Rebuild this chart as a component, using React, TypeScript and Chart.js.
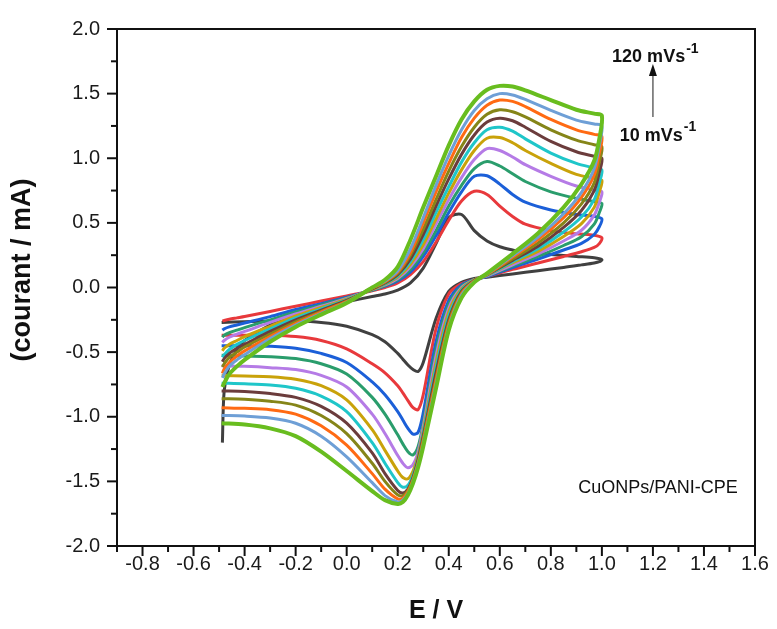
import { useEffect, useRef } from 'react';
import { Chart, registerables } from 'chart.js';

Chart.register(...registerables);

// Potential grids (V) for the anodic (forward) and cathodic (reverse) scans
const E_FWD = [-0.487, -0.48, -0.46, -0.43, -0.4, -0.3, -0.2, -0.1, 0.0, 0.1, 0.15, 0.2, 0.25, 0.3, 0.35, 0.4, 0.45, 0.5, 0.55, 0.6, 0.65, 0.7, 0.8, 0.9, 0.97, 1.0];
const E_REV = [0.99, 0.97, 0.92, 0.85, 0.75, 0.65, 0.55, 0.5, 0.45, 0.4, 0.35, 0.3, 0.28, 0.26, 0.24, 0.22, 0.2, 0.15, 0.1, 0.0, -0.1, -0.2, -0.3, -0.4, -0.49];

// Scan rates (mV/s)
const SCAN_RATES = [10, 20, 30, 40, 50, 60, 70, 80, 90, 100, 110, 120];

// Currents (mA), forward scan
const FWD_10 = [-1.2, -0.8, -0.6, -0.48, -0.41, -0.29, -0.21, -0.15, -0.11, -0.07, -0.05, -0.02, 0.035, 0.15, 0.34, 0.54, 0.565, 0.44, 0.36, 0.315, 0.29, 0.27, 0.255, 0.24, 0.23, 0.215];
const FWD_20 = [-0.26, -0.255, -0.245, -0.235, -0.225, -0.185, -0.145, -0.105, -0.065, -0.025, 0.0, 0.035, 0.1, 0.2, 0.35, 0.52, 0.67, 0.745, 0.72, 0.63, 0.55, 0.49, 0.44, 0.415, 0.405, 0.385];
const FWD_30 = [-0.33, -0.32, -0.305, -0.29, -0.275, -0.225, -0.17, -0.125, -0.075, -0.02, 0.01, 0.05, 0.12, 0.24, 0.4, 0.58, 0.74, 0.86, 0.865, 0.8, 0.72, 0.66, 0.6, 0.565, 0.55, 0.53];
const FWD_40 = [-0.385, -0.37, -0.35, -0.33, -0.31, -0.25, -0.19, -0.135, -0.08, -0.02, 0.015, 0.06, 0.14, 0.27, 0.44, 0.63, 0.79, 0.92, 0.975, 0.94, 0.88, 0.82, 0.74, 0.69, 0.665, 0.65];
const FWD_50 = [-0.425, -0.41, -0.385, -0.36, -0.34, -0.27, -0.205, -0.145, -0.085, -0.015, 0.02, 0.07, 0.16, 0.3, 0.49, 0.68, 0.85, 0.99, 1.075, 1.06, 1.01, 0.95, 0.86, 0.785, 0.755, 0.74];
const FWD_60 = [-0.49, -0.47, -0.44, -0.41, -0.38, -0.3, -0.22, -0.155, -0.09, -0.015, 0.025, 0.08, 0.18, 0.33, 0.53, 0.73, 0.91, 1.06, 1.155, 1.16, 1.12, 1.06, 0.96, 0.875, 0.845, 0.83];
const FWD_70 = [-0.54, -0.52, -0.48, -0.44, -0.41, -0.32, -0.235, -0.165, -0.095, -0.01, 0.03, 0.09, 0.2, 0.37, 0.58, 0.78, 0.97, 1.12, 1.22, 1.24, 1.21, 1.15, 1.04, 0.96, 0.925, 0.91];
const FWD_80 = [-0.575, -0.55, -0.51, -0.47, -0.44, -0.34, -0.25, -0.175, -0.1, -0.01, 0.035, 0.1, 0.22, 0.41, 0.63, 0.84, 1.03, 1.18, 1.28, 1.31, 1.29, 1.24, 1.13, 1.05, 1.015, 1.0];
const FWD_90 = [-0.615, -0.59, -0.54, -0.5, -0.46, -0.36, -0.265, -0.185, -0.105, -0.005, 0.04, 0.11, 0.25, 0.45, 0.68, 0.9, 1.09, 1.24, 1.34, 1.375, 1.36, 1.32, 1.22, 1.14, 1.105, 1.09];
const FWD_100 = [-0.665, -0.63, -0.58, -0.53, -0.49, -0.38, -0.28, -0.19, -0.11, -0.005, 0.045, 0.12, 0.27, 0.5, 0.74, 0.96, 1.16, 1.31, 1.41, 1.45, 1.44, 1.4, 1.3, 1.22, 1.185, 1.17];
const FWD_110 = [-0.7, -0.67, -0.61, -0.56, -0.52, -0.395, -0.29, -0.2, -0.115, 0.0, 0.05, 0.13, 0.3, 0.54, 0.79, 1.02, 1.22, 1.37, 1.46, 1.5, 1.49, 1.455, 1.37, 1.295, 1.265, 1.25];
const FWD_120 = [-0.77, -0.74, -0.67, -0.61, -0.56, -0.42, -0.305, -0.21, -0.12, 0.0, 0.06, 0.16, 0.37, 0.62, 0.86, 1.1, 1.3, 1.44, 1.53, 1.56, 1.555, 1.525, 1.45, 1.375, 1.345, 1.33];

// Currents (mA), reverse scan
const REV_10 = [0.2, 0.19, 0.175, 0.155, 0.13, 0.105, 0.08, 0.07, 0.04, -0.03, -0.24, -0.58, -0.65, -0.635, -0.6, -0.555, -0.51, -0.42, -0.365, -0.3, -0.27, -0.26, -0.26, -0.265, -0.27];
const REV_20 = [0.34, 0.31, 0.277, 0.24, 0.19, 0.14, 0.085, 0.06, 0.03, -0.05, -0.32, -0.83, -0.945, -0.93, -0.875, -0.815, -0.76, -0.66, -0.59, -0.475, -0.41, -0.38, -0.37, -0.37, -0.37];
const REV_30 = [0.47, 0.41, 0.341, 0.29, 0.22, 0.155, 0.085, 0.06, 0.02, -0.1, -0.42, -0.97, -1.12, -1.135, -1.09, -1.025, -0.96, -0.83, -0.73, -0.58, -0.51, -0.47, -0.455, -0.45, -0.45];
const REV_40 = [0.58, 0.49, 0.392, 0.325, 0.24, 0.165, 0.09, 0.06, 0.01, -0.13, -0.48, -1.05, -1.23, -1.295, -1.27, -1.21, -1.14, -0.98, -0.85, -0.67, -0.59, -0.55, -0.535, -0.53, -0.525];
const REV_50 = [0.66, 0.56, 0.443, 0.36, 0.26, 0.175, 0.09, 0.06, 0.0, -0.16, -0.53, -1.08, -1.27, -1.37, -1.395, -1.36, -1.3, -1.13, -0.98, -0.77, -0.68, -0.635, -0.62, -0.61, -0.605];
const REV_60 = [0.74, 0.62, 0.494, 0.395, 0.28, 0.19, 0.095, 0.06, -0.01, -0.19, -0.58, -1.11, -1.3, -1.42, -1.48, -1.47, -1.42, -1.26, -1.1, -0.87, -0.76, -0.71, -0.69, -0.685, -0.68];
const REV_70 = [0.81, 0.68, 0.545, 0.43, 0.3, 0.2, 0.095, 0.055, -0.02, -0.22, -0.62, -1.13, -1.32, -1.45, -1.53, -1.545, -1.51, -1.36, -1.2, -0.96, -0.84, -0.78, -0.755, -0.745, -0.74];
const REV_80 = [0.89, 0.75, 0.596, 0.465, 0.32, 0.21, 0.1, 0.055, -0.03, -0.25, -0.66, -1.15, -1.33, -1.47, -1.56, -1.59, -1.57, -1.44, -1.28, -1.05, -0.92, -0.85, -0.82, -0.805, -0.8];
const REV_90 = [0.97, 0.81, 0.647, 0.5, 0.345, 0.22, 0.1, 0.05, -0.04, -0.27, -0.7, -1.17, -1.35, -1.48, -1.57, -1.61, -1.605, -1.5, -1.36, -1.13, -0.99, -0.91, -0.88, -0.865, -0.86];
const REV_100 = [1.04, 0.87, 0.698, 0.54, 0.37, 0.235, 0.1, 0.05, -0.05, -0.29, -0.72, -1.19, -1.36, -1.49, -1.58, -1.63, -1.635, -1.56, -1.44, -1.22, -1.07, -0.98, -0.945, -0.935, -0.93];
const REV_110 = [1.1, 0.92, 0.736, 0.57, 0.39, 0.245, 0.105, 0.045, -0.06, -0.31, -0.75, -1.21, -1.37, -1.5, -1.595, -1.645, -1.66, -1.61, -1.51, -1.31, -1.15, -1.05, -1.01, -0.995, -0.99];
const REV_120 = [1.15, 0.98, 0.8, 0.62, 0.42, 0.26, 0.11, 0.04, -0.08, -0.33, -0.78, -1.23, -1.39, -1.515, -1.605, -1.66, -1.675, -1.645, -1.575, -1.42, -1.27, -1.15, -1.09, -1.06, -1.05];

const FWD = [FWD_10, FWD_20, FWD_30, FWD_40, FWD_50, FWD_60, FWD_70, FWD_80, FWD_90, FWD_100, FWD_110, FWD_120];
const REV = [REV_10, REV_20, REV_30, REV_40, REV_50, REV_60, REV_70, REV_80, REV_90, REV_100, REV_110, REV_120];

const COLORS = ['#404040', '#e8393c', '#1b5fd8', '#2a9d6c', '#b57be6', '#c9a20a', '#1fc6c9', '#6b3c3c', '#858518', '#ff6a13', '#6e9fd6', '#68bd1f'];

const X_MIN = -0.9;
const X_MAX = 1.6;
const Y_MIN = -2.0;
const Y_MAX = 2.0;

const X_TITLE = 'E / V';
const Y_TITLE = '(courant / mA)';
const SAMPLE_LABEL = 'CuONPs/PANI-CPE';
const RATE_HIGH = '120 mVs';
const RATE_LOW = '10 mVs';
const SUPER = '-1';

const FONT = "'Liberation Sans', Arial, Helvetica, sans-serif";

const decorPlugin = {
  id: 'decor',
  afterDatasetsDraw(chart: any) {
    const { ctx, chartArea: a, scales } = chart;
    const x = scales.x;
    const y = scales.y;
    ctx.save();
    ctx.strokeStyle = '#111';
    ctx.lineWidth = 2;
    ctx.strokeRect(a.left, a.top, a.right - a.left, a.bottom - a.top);
    ctx.lineCap = 'butt';
    x.ticks.forEach((t: any) => {
      const px = x.getPixelForValue(t.value);
      const major = Math.round(t.value * 10) % 2 === 0;
      const len = major ? 10 : 6;
      ctx.beginPath();
      ctx.moveTo(px, a.bottom);
      ctx.lineTo(px, a.bottom + len);
      ctx.stroke();
    });
    y.ticks.forEach((t: any) => {
      const py = y.getPixelForValue(t.value);
      const major = Math.round(t.value * 4) % 2 === 0;
      const len = major ? 10 : 6;
      ctx.beginPath();
      ctx.moveTo(a.left, py);
      ctx.lineTo(a.left - len, py);
      ctx.stroke();
    });

    // axis titles
    ctx.fillStyle = '#111';
    ctx.textAlign = 'center';
    ctx.textBaseline = 'middle';
    ctx.font = `bold 25px ${FONT}`;
    ctx.fillText(X_TITLE, (a.left + a.right) / 2, 611);
    ctx.save();
    ctx.translate(23, 270);
    ctx.rotate(-Math.PI / 2);
    ctx.font = `bold 27px ${FONT}`;
    ctx.fillText(Y_TITLE, 0, 0);
    ctx.restore();

    // sample label
    ctx.font = `18px ${FONT}`;
    ctx.textAlign = 'center';
    ctx.fillStyle = '#111';
    ctx.fillText(SAMPLE_LABEL, x.getPixelForValue(1.22), y.getPixelForValue(-1.55));

    // scan-rate annotations
    const drawRate = (txt: string, ex: number, iy: number) => {
      const px = x.getPixelForValue(ex);
      const py = y.getPixelForValue(iy);
      ctx.font = `bold 18px ${FONT}`;
      ctx.textAlign = 'left';
      ctx.textBaseline = 'middle';
      ctx.fillText(txt, px, py);
      const w = ctx.measureText(txt).width;
      ctx.font = `bold 14px ${FONT}`;
      ctx.fillText(SUPER, px + w + 1, py - 8);
    };
    drawRate(RATE_HIGH, 1.04, 1.78);
    drawRate(RATE_LOW, 1.07, 1.175);

    // arrow
    const ax = x.getPixelForValue(1.2);
    const yBase = y.getPixelForValue(1.32);
    const yTip = y.getPixelForValue(1.73);
    ctx.strokeStyle = '#666';
    ctx.lineWidth = 1.5;
    ctx.beginPath();
    ctx.moveTo(ax, yBase);
    ctx.lineTo(ax, yTip + 8);
    ctx.stroke();
    ctx.fillStyle = '#111';
    ctx.beginPath();
    ctx.moveTo(ax, yTip);
    ctx.lineTo(ax - 4, yTip + 12);
    ctx.lineTo(ax + 4, yTip + 12);
    ctx.closePath();
    ctx.fill();
    ctx.restore();
  },
};

export default function App() {
  const ref = useRef<HTMLCanvasElement | null>(null);

  useEffect(() => {
    if (!ref.current) return;
    const datasets = SCAN_RATES.map((rate, i) => ({
      label: `${rate} mV/s`,
      data: [
        ...E_FWD.map((e, k) => ({ x: e, y: FWD[i][k] })),
        ...E_REV.map((e, k) => ({ x: e, y: REV[i][k] })),
      ],
      borderColor: COLORS[i],
      backgroundColor: COLORS[i],
      borderWidth: i === SCAN_RATES.length - 1 ? 4 : 3,
      pointRadius: 0,
      showLine: true,
      tension: 0.3,
      fill: false,
      order: SCAN_RATES.length - 1 - i,
    }));

    const chart = new Chart(ref.current, {
      type: 'scatter',
      data: { datasets },
      options: {
        animation: false,
        responsive: false,
        devicePixelRatio: 1,
        layout: { padding: { top: 23, right: 22, left: 0, bottom: 0 } },
        plugins: { legend: { display: false }, tooltip: { enabled: false } },
        scales: {
          x: {
            type: 'linear',
            min: X_MIN,
            max: X_MAX,
            afterFit: (s: any) => { s.height = 83; },
            grid: { display: false, drawTicks: false },
            border: { display: false },
            ticks: {
              stepSize: 0.1,
              autoSkip: false,
              maxRotation: 0,
              padding: 6,
              color: '#1a1a1a',
              font: { family: FONT, size: 20 },
              callback: (v: any) => {
                const k = Math.round(Number(v) * 10);
                return k % 2 === 0 ? (k / 10).toFixed(1) : '';
              },
            },
          },
          y: {
            type: 'linear',
            min: Y_MIN,
            max: Y_MAX,
            afterFit: (s: any) => { s.width = 117; },
            grid: { display: false, drawTicks: false },
            border: { display: false },
            ticks: {
              stepSize: 0.25,
              autoSkip: false,
              padding: 17,
              color: '#1a1a1a',
              font: { family: FONT, size: 20 },
              callback: (v: any) => {
                const k = Math.round(Number(v) * 4);
                return k % 2 === 0 ? (k / 4).toFixed(1) : '';
              },
            },
          },
        },
      },
      plugins: [decorPlugin],
    } as any);

    return () => chart.destroy();
  }, []);

  return (
    <div style={{ position: 'absolute', left: 0, top: 0, width: 777, height: 629, background: '#fff' }}>
      <canvas ref={ref} width={777} height={629} style={{ display: 'block' }} />
    </div>
  );
}
